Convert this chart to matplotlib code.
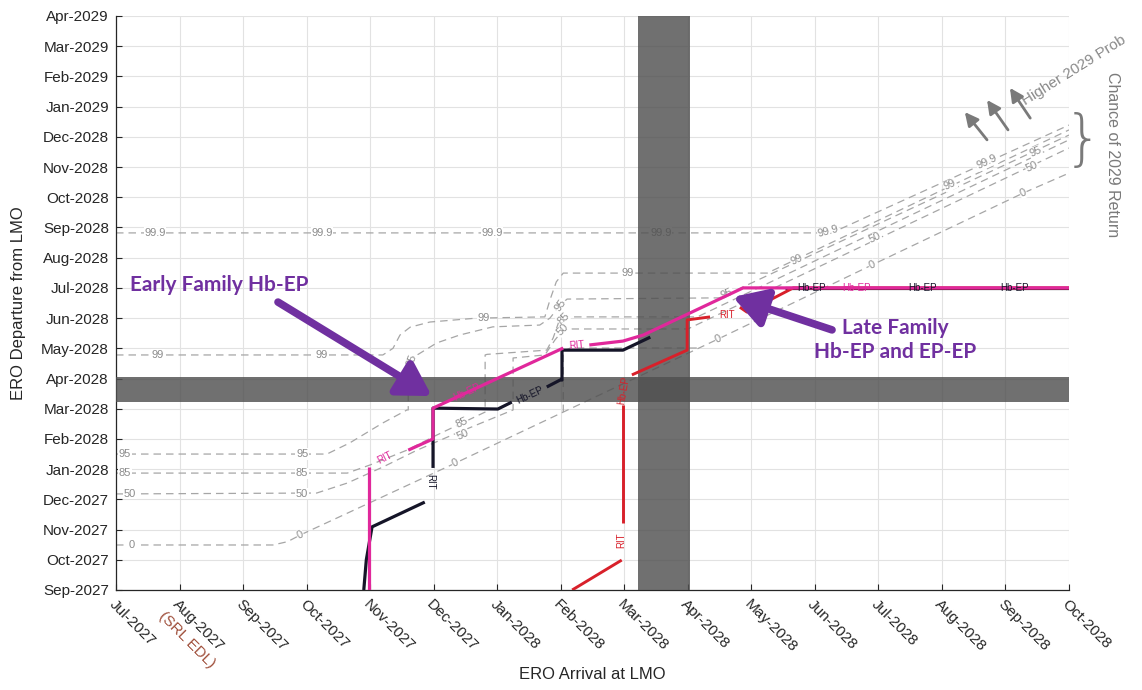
import matplotlib
matplotlib.use('Agg')
import matplotlib.pyplot as plt

plt.rcParams['font.family'] = ['Liberation Sans', 'DejaVu Sans']

# ---------------- data ----------------
# x = months after Jul-2027 (ERO arrival), y = months after Sep-2027 (ERO departure)
x_months = ['Jul-2027', 'Aug-2027', 'Sep-2027', 'Oct-2027', 'Nov-2027', 'Dec-2027',
            'Jan-2028', 'Feb-2028', 'Mar-2028', 'Apr-2028', 'May-2028', 'Jun-2028',
            'Jul-2028', 'Aug-2028', 'Sep-2028', 'Oct-2028']
y_months = ['Sep-2027', 'Oct-2027', 'Nov-2027', 'Dec-2027', 'Jan-2028', 'Feb-2028',
            'Mar-2028', 'Apr-2028', 'May-2028', 'Jun-2028', 'Jul-2028', 'Aug-2028',
            'Sep-2028', 'Oct-2028', 'Nov-2028', 'Dec-2028', 'Jan-2029', 'Feb-2029',
            'Mar-2029', 'Apr-2029']

# probability-of-return contours (dashed)
c999_x = [0, 11.1, 11.4, 15]
c999_y = [11.82, 11.82, 11.95, 15.39]
c99_x = [0, 4.2, 4.36, 4.47, 4.63, 4.94, 5.68, 6.75, 6.83, 6.93, 7.04, 10.25, 15]
c99_y = [7.78, 7.78, 8.0, 8.44, 8.7, 8.87, 9.0, 9.04, 9.6, 10.2, 10.49, 10.49, 15.23]
c95_x = [0, 3.32, 3.68, 4.2, 4.58, 4.6, 4.6, 4.74, 5.05, 5.41, 5.93, 6.67, 6.83, 6.99, 7.1, 9.5, 15]
c95_y = [4.5, 4.5, 4.87, 5.53, 5.96, 5.96, 7.45, 7.78, 8.18, 8.44, 8.71, 8.77, 9.0, 9.43, 9.63, 9.67, 15.06]
c85_x = [0, 3.64, 4.0, 4.58, 5.05, 5.45, 5.81, 5.81, 5.84, 6.78, 6.88, 6.99, 7.1, 9.15, 15]
c85_y = [3.87, 3.87, 4.14, 4.63, 5.13, 5.53, 5.89, 7.78, 7.8, 7.94, 8.34, 9.0, 9.04, 9.04, 14.9]
c50_x = [0, 3.16, 3.64, 4.2, 4.74, 5.37, 6.25, 6.25, 6.75, 6.91, 7.04, 7.1, 9.0, 15]
c50_y = [3.18, 3.21, 3.54, 4.07, 4.63, 5.2, 5.96, 7.68, 7.78, 8.28, 8.61, 8.64, 8.64, 14.63]
c0_x = [0, 2.47, 2.7, 2.9, 5.34, 7.04, 9.48, 11.9, 14.28, 15]
c0_y = [1.49, 1.49, 1.6, 1.82, 4.2, 5.89, 8.31, 10.76, 13.14, 13.8]
c0b_x = [7.04, 7.04, 7.15, 9.2]
c0b_y = [5.89, 7.9, 8.01, 8.01]
contours = [(c999_x, c999_y), (c99_x, c99_y), (c95_x, c95_y), (c85_x, c85_y),
            (c50_x, c50_y), (c0_x, c0_y), (c0b_x, c0b_y)]

# contour labels: x, y, text, rotation
clabel_x = [0.61, 3.24, 5.92, 8.58, 11.21, 13.71,
            0.66, 3.24, 5.78, 8.06, 10.72, 13.13,
            0.14, 2.93, 4.66, 6.99, 9.62, 14.47,
            0.14, 2.93, 5.45, 7.04,
            0.22, 2.93, 5.46, 7.04, 11.95, 14.42,
            0.25, 2.9, 5.34, 9.48, 11.9, 14.28]
clabel_y = [11.82, 11.82, 11.82, 11.82, 11.87, 14.16,
            7.78, 7.78, 9.0, 10.49, 10.95, 13.4,
            4.5, 4.5, 7.61, 9.43, 9.8, 14.5,
            3.87, 3.87, 5.53, 9.0,
            3.18, 3.18, 5.13, 8.61, 11.65, 14.0,
            1.49, 1.82, 4.2, 8.31, 10.76, 13.14]
clabel_t = ['99.9'] * 6 + ['99'] * 6 + ['95'] * 6 + ['85'] * 4 + ['50'] * 6 + ['0'] * 6
clabel_r = [0, 0, 0, 0, 15, 25,
            0, 0, 0, 0, 25, 25,
            0, 0, 70, 55, 25, 25,
            0, 0, 25, 45,
            0, 0, 25, 45, 25, 25,
            0, 25, 25, 25, 25, 25]

# shaded windows
vband = (8.22, 9.04)
hband = (6.22, 7.05)

# Early family (magenta Hb-EP trajectory pieces)
mag1_x = [3.98, 3.98]
mag1_y = [0, 4.07]
mag2_x = [4.6, 4.99, 4.99, 7.04]
mag2_y = [4.63, 5.0, 6.02, 8.01]
mag3_x = [7.45, 7.98, 8.3, 9.87, 15]
mag3_y = [8.11, 8.24, 8.44, 10.0, 10.0]
# Early family (black)
blk1_x = [3.9, 3.94, 4.03, 4.86]
blk1_y = [0, 1.0, 2.09, 2.91]
blk2_x = [4.99, 4.99, 6.01, 6.23]
blk2_y = [4.04, 6.02, 5.99, 6.22]
blk3_x = [6.78, 6.99, 7.02, 7.02, 7.98, 8.41]
blk3_y = [6.72, 6.95, 6.95, 7.94, 7.94, 8.37]
blk4_x = [10.53, 15]
blk4_y = [10.0, 10.0]
# Late family (red)
red1_x = [7.18, 7.96]
red1_y = [0, 0.99]
red2_x = [7.98, 7.98]
red2_y = [2.22, 6.12]
red3_x = [8.12, 8.99, 8.99, 9.35]
red3_y = [7.12, 7.94, 8.94, 9.04]
red4_x = [9.82, 9.93, 10.66, 15]
red4_y = [9.36, 9.2, 10.0, 10.0]

# inline trajectory labels: x, y, text, rotation, colour key
tl_x = [4.23, 5.52, 6.52, 4.94, 7.25, 7.96, 8.0, 9.62, 10.95, 11.65, 12.7, 14.15]
tl_y = [4.37, 6.55, 6.45, 3.57, 8.1, 1.66, 6.62, 9.1, 10.0, 10.0, 10.0, 10.0]
tl_t = ['RIT', 'Hb-EP', 'Hb-EP', 'RIT', 'RIT', 'RIT', 'Hb-EP', 'RIT', 'Hb-EP', 'Hb-EP', 'Hb-EP', 'Hb-EP']
tl_r = [27, 25, 25, -90, 5, 90, 80, 0, 0, 0, 0, 0]
tl_c = ['m', 'm', 'k', 'k', 'm', 'r', 'r', 'r', 'k', 'm', 'k', 'k']

MAG = '#e0289b'
BLK = '#151528'
RED = '#d8202a'
PUR = '#7030a0'
col = {'m': MAG, 'k': BLK, 'r': RED}

# ---------------- figure ----------------
fig = plt.figure(figsize=(11.42, 6.90), dpi=100)
ax = fig.add_axes([116 / 1142, 1 - 590 / 690, 953 / 1142, 574 / 690])
ax.set_xlim(0, 15)
ax.set_ylim(0, 19)

ax.set_xticks(range(len(x_months)))
ax.set_xticklabels(x_months, rotation=-45, ha='left', va='top', rotation_mode='anchor')
ax.set_yticks(range(len(y_months)))
ax.set_yticklabels(y_months)
ax.tick_params(direction='in', length=4, color='#262626', labelcolor='#262626',
               labelsize=11, pad=5)
ax.grid(True, color='#e2e2e2', lw=0.8, zorder=0)
ax.set_axisbelow(True)
for s in ['top', 'right']:
    ax.spines[s].set_visible(False)
for s in ['left', 'bottom']:
    ax.spines[s].set_color('#262626')
    ax.spines[s].set_linewidth(0.9)

# contours
for cx, cy in contours:
    ax.plot(cx, cy, color='#a6a6a6', lw=0.9, ls=(0, (6, 4)), zorder=1)
for x, y, t, r in zip(clabel_x, clabel_y, clabel_t, clabel_r):
    ax.text(x, y, t, fontsize=8, color='#8c8c8c', rotation=r, ha='center', va='center',
            rotation_mode='anchor', zorder=1.5,
            bbox=dict(facecolor='white', edgecolor='none', pad=0.4))

# shaded windows
ax.axvspan(*vband, color='#505050', alpha=0.82, lw=0, zorder=3)
ax.axhspan(*hband, color='#505050', alpha=0.82, lw=0, zorder=3)

# trajectories
lw = 2.3
ax.plot(blk4_x, blk4_y, color=BLK, lw=lw, zorder=4, solid_capstyle='butt')
for xs, ys in [(red1_x, red1_y), (red2_x, red2_y), (red3_x, red3_y), (red4_x, red4_y)]:
    ax.plot(xs, ys, color=RED, lw=2.1, zorder=4.5, solid_capstyle='butt')
for xs, ys in [(blk1_x, blk1_y), (blk2_x, blk2_y), (blk3_x, blk3_y)]:
    ax.plot(xs, ys, color=BLK, lw=lw, zorder=5, solid_capstyle='butt')
for xs, ys in [(mag1_x, mag1_y), (mag2_x, mag2_y), (mag3_x, mag3_y)]:
    ax.plot(xs, ys, color=MAG, lw=lw, zorder=5.5, solid_capstyle='butt')
for x, y, t, r, c in zip(tl_x, tl_y, tl_t, tl_r, tl_c):
    ax.text(x, y, t, fontsize=7, color=col[c], rotation=r, ha='center', va='center',
            rotation_mode='anchor', zorder=6)

# annotations
arrow_style = '-|>,head_length=1.1,head_width=0.65'
ax.text(0.22, 10.1, 'Early Family Hb-EP', fontsize=15, fontweight='bold', color=PUR,
        family=['Lato', 'DejaVu Sans'], ha='left', va='center', zorder=8)
ax.annotate('', xy=(4.97, 6.42), xytext=(2.55, 9.53),
            arrowprops=dict(arrowstyle=arrow_style, color=PUR,
                            lw=5.5, shrinkA=0, shrinkB=0, mutation_scale=18), zorder=8)
ax.text(12.26, 8.28, 'Late Family\nHb-EP and EP-EP', fontsize=15, fontweight='bold',
        color=PUR, family=['Lato', 'DejaVu Sans'], ha='center', va='center',
        linespacing=1.25, zorder=8)
ax.annotate('', xy=(9.71, 9.7), xytext=(11.27, 8.61),
            arrowprops=dict(arrowstyle=arrow_style, color=PUR,
                            lw=5.5, shrinkA=0, shrinkB=0, mutation_scale=18), zorder=8)

# higher 2029 probability arrows
for (x0, y0, x1, y1) in [(13.71, 14.9, 13.36, 15.82), (14.04, 15.23, 13.71, 16.22),
                         (14.39, 15.62, 14.07, 16.62)]:
    ax.annotate('', xy=(x1, y1), xytext=(x0, y0), annotation_clip=False,
                arrowprops=dict(arrowstyle='-|>,head_length=0.8,head_width=0.4',
                                color='#7a7a7a', lw=2, shrinkA=0, shrinkB=0,
                                mutation_scale=10), zorder=7)
ax.text(14.34, 15.95, 'Higher 2029 Prob', fontsize=11, color='#8a8a8a', rotation=32,
        ha='left', va='bottom', rotation_mode='anchor', clip_on=False)
ax.text(15.22, 14.85, '}', fontsize=44, color='#7a7a7a', ha='center', va='center',
        family='DejaVu Sans', fontweight='light', clip_on=False)
ax.text(15.68, 14.4, 'Chance of 2029 Return', fontsize=11.5, color='#7a7a7a', rotation=-90,
        ha='center', va='center', clip_on=False)

# special tick annotation
ax.annotate('(SRL EDL)', xy=(1, 0), xycoords=('data', 'axes fraction'),
            xytext=(-10, -14), textcoords='offset points', rotation=-45,
            rotation_mode='anchor', ha='left', va='top', fontsize=11, color='#a0503c',
            annotation_clip=False)

ax.set_xlabel('ERO Arrival at LMO', fontsize=12, color='#262626')
ax.xaxis.set_label_coords(0.5, -0.135)
ax.set_ylabel('ERO Departure from LMO', fontsize=12, color='#262626')
ax.yaxis.set_label_coords(-0.094, 0.5)

fig.savefig('out.png', dpi=100)
